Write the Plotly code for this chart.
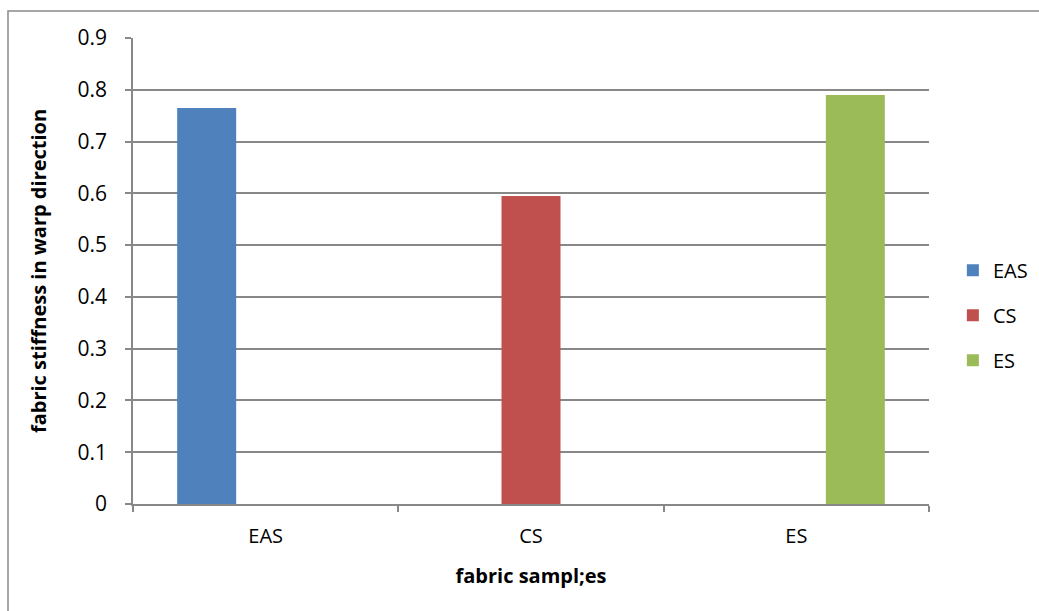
import plotly.graph_objects as go

categories = ["EAS", "CS", "ES"]
series_names = ["EAS", "CS", "ES"]
series_values = [
    [0.765, None, None],
    [None, 0.595, None],
    [None, None, 0.79],
]
series_colors = ["#4F81BD", "#C0504D", "#9BBB59"]
y_ticks = [0, 0.1, 0.2, 0.3, 0.4, 0.5, 0.6, 0.7, 0.8, 0.9]
y_tick_labels = ["0", "0.1", "0.2", "0.3", "0.4", "0.5", "0.6", "0.7", "0.8", "0.9"]

FONT = "Open Sans"
GRID = "#888888"

fig = go.Figure()
for name, vals, color in zip(series_names, series_values, series_colors):
    fig.add_trace(go.Bar(
        x=categories, y=vals, name=name, legendgroup=name,
        marker=dict(color=color, line=dict(width=0)),
    ))

fig.update_layout(
    width=1039, height=611,
    margin=dict(l=133, r=110, t=38, b=107, autoexpand=False),
    paper_bgcolor="white", plot_bgcolor="white",
    barmode="group", bargap=0.333, bargroupgap=0,
    font=dict(family=FONT, size=20, color="black"),
    showlegend=True,
    legend=dict(
        x=1.03, y=0.405, xanchor="left", yanchor="middle",
        font=dict(family=FONT, size=20),
        tracegroupgap=16, itemwidth=30,
    ),
    xaxis=dict(
        type="category", showgrid=False, showline=True, linecolor=GRID, linewidth=1.5,
        ticks="outside", tickson="boundaries", ticklen=6, tickcolor=GRID, tickwidth=1.5,
        tickfont=dict(family=FONT, size=20), ticklabelstandoff=13,
        title=dict(text="<b>fabric sampl;es</b>", font=dict(family=FONT, size=20), standoff=21),
    ),
    yaxis=dict(
        range=[0, 0.9], tickvals=y_ticks, ticktext=y_tick_labels,
        showgrid=True, gridcolor=GRID, gridwidth=1.5, zeroline=False,
        showline=True, linecolor=GRID, linewidth=1.5,
        ticks="outside", ticklen=6, tickcolor=GRID, tickwidth=1.5,
        tickfont=dict(family=FONT, size=21), ticklabelstandoff=14,
        title=dict(text="<b>fabric stiffness in warp direction</b>",
                   font=dict(family=FONT, size=20), standoff=26),
    ),
    shapes=[dict(
        type="rect", xref="paper", yref="paper",
        x0=(8 - 133) / 796, x1=(1050 - 133) / 796,
        y0=-(625 - 504) / 466, y1=1 + (38 - 11) / 466,
        line=dict(color="#8a8a8a", width=1.5), fillcolor="rgba(0,0,0,0)", layer="below",
    )],
)

fig.write_html("out.html")
